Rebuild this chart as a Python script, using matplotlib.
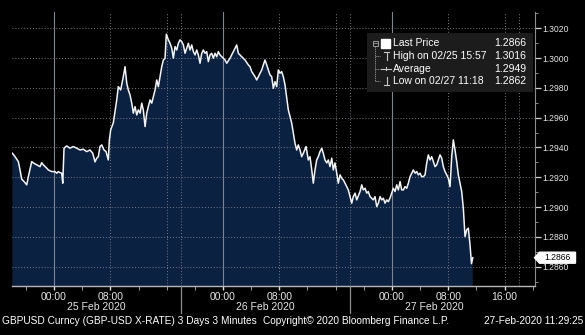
import matplotlib
matplotlib.use("Agg")
import matplotlib.pyplot as plt
from matplotlib.patches import Rectangle, Polygon

# ---------------- data ----------------
# hours since 2020-02-25 00:00 (chart time zone)
hours = [
    -5.92, -5.54, -5.07, -4.83, -4.59, -4.26, -3.88, -3.65, -3.17, -2.94,
    -2.46, -1.99, -1.75, -1.52, -1.04, -0.81, -0.33, 0.14, 0.38, 0.61,
    0.85, 1.09, 1.24, 1.42, 1.80, 2.27, 2.74, 3.22, 3.69, 4.16,
    4.64, 5.11, 5.50, 5.82, 6.07, 6.29, 6.53, 6.78, 7.10, 7.39,
    7.71, 7.86, 8.05, 8.42, 8.91, 9.13, 9.47, 9.84, 10.09, 10.33,
    10.55, 10.80, 11.04, 11.26, 11.51, 11.75, 11.97, 12.22, 12.46, 12.68,
    12.93, 13.17, 13.39, 13.64, 13.88, 14.11, 14.35, 14.59, 14.82, 15.06,
    15.30, 15.53, 15.77, 15.95, 16.24, 16.48, 16.72, 16.95, 17.19, 17.43,
    17.66, 17.90, 18.14, 18.37, 18.61, 18.85, 19.08, 19.32, 19.56, 19.79,
    20.03, 20.27, 20.50, 20.74, 20.98, 21.21, 21.45, 21.69, 21.92, 22.16,
    22.40, 22.63, 22.87, 23.11, 23.34, 23.58, 23.82, 24.05, 24.29, 24.53,
    25.00, 25.24, 25.47, 25.71, 25.95, 26.18, 26.42, 26.66, 27.13, 27.60,
    27.84, 28.08, 28.55, 28.79, 29.02, 29.26, 29.50, 29.73, 29.97, 30.21,
    30.44, 30.68, 30.92, 31.15, 31.39, 31.63, 31.86, 32.10, 32.34, 32.57,
    32.81, 33.05, 33.28, 33.52, 33.76, 33.99, 34.23, 34.47, 34.70, 34.94,
    35.18, 35.41, 35.80, 36.12, 36.36, 36.61, 36.83, 37.07, 37.31, 37.54,
    37.78, 38.03, 38.25, 38.49, 38.74, 38.96, 39.20, 39.45, 39.67, 39.91,
    40.16, 40.38, 40.63, 40.87, 41.09, 41.34, 41.58, 41.80, 42.05, 42.29,
    42.51, 42.76, 43.00, 43.47, 43.71, 43.93, 44.18, 44.42, 44.64, 44.89,
    45.36, 45.60, 45.84, 46.07, 46.31, 46.55, 46.78, 47.02, 47.26, 47.49,
    47.73, 47.97, 48.20, 48.44, 48.68, 48.91, 49.15, 49.39, 49.62, 49.86,
    50.10, 50.33, 50.57, 50.81, 51.04, 51.28, 51.52, 51.75, 51.99, 52.23,
    52.46, 52.70, 52.94, 53.17, 53.41, 53.65, 53.88, 54.12, 54.36, 54.59,
    54.83, 55.07, 55.30, 55.54, 55.78, 56.01, 56.25, 56.49, 56.72, 56.96,
    57.20, 57.43, 57.67, 57.91, 58.14, 58.38, 58.62, 58.85, 59.09, 59.30,
    59.48,
]
price = [
    1.29361, 1.29338, 1.29305, 1.29249, 1.29187, 1.29171, 1.29149, 1.29204, 1.29305, 1.29296,
    1.29283, 1.29271, 1.29298, 1.29283, 1.29261, 1.29249, 1.29238, 1.29238, 1.29227, 1.29238,
    1.29231, 1.29227, 1.29160, 1.29395, 1.29410, 1.29395, 1.29406, 1.29395, 1.29383, 1.29388,
    1.29372, 1.29383, 1.29361, 1.29303, 1.29328, 1.29338, 1.29406, 1.29417, 1.29383, 1.29372,
    1.29316, 1.29451, 1.29518, 1.29565, 1.29719, 1.29808, 1.29786, 1.29875, 1.29942, 1.29831,
    1.29786, 1.29752, 1.29697, 1.29630, 1.29674, 1.29618, 1.29652, 1.29630, 1.29697, 1.29652,
    1.29540, 1.29630, 1.29674, 1.29719, 1.29697, 1.29741, 1.29786, 1.29853, 1.29808, 1.29875,
    1.29942, 1.29987, 1.29999, 1.30160, 1.30122, 1.30099, 1.30066, 1.29999, 1.30077, 1.30054,
    1.30099, 1.30122, 1.30110, 1.30088, 1.30032, 1.30066, 1.30099, 1.30054, 1.30088, 1.30043,
    1.30021, 1.30054, 1.30021, 1.29965, 1.30032, 1.30054, 1.30032, 1.30043, 1.29976, 1.30021,
    1.30032, 1.29999, 1.30032, 1.30009, 1.30043, 1.30021, 1.30009, 1.29999, 1.29987, 1.29965,
    1.29999, 1.30021, 1.30043, 1.30066, 1.30088, 1.30032, 1.30021, 1.30009, 1.29987, 1.29954,
    1.29942, 1.29909, 1.29875, 1.29853, 1.29875, 1.29898, 1.29920, 1.29954, 1.29987, 1.29954,
    1.29920, 1.29887, 1.29875, 1.29797, 1.29842, 1.29808, 1.29920, 1.29898, 1.29909, 1.29875,
    1.29820, 1.29732, 1.29652, 1.29607, 1.29563, 1.29495, 1.29428, 1.29383, 1.29417, 1.29383,
    1.29338, 1.29361, 1.29406, 1.29316, 1.29338, 1.29249, 1.29160, 1.29249, 1.29316, 1.29338,
    1.29372, 1.29395, 1.29361, 1.29316, 1.29296, 1.29316, 1.29271, 1.29328, 1.29249, 1.29296,
    1.29227, 1.29160, 1.29216, 1.29193, 1.29182, 1.29160, 1.29137, 1.29115, 1.29070, 1.29026,
    1.29070, 1.29093, 1.29048, 1.29104, 1.29149, 1.29115, 1.29126, 1.29093, 1.29104, 1.29070,
    1.29048, 1.29070, 1.29003, 1.29026, 1.29070, 1.29048, 1.29059, 1.29026, 1.29048, 1.29036,
    1.29061, 1.29095, 1.29126, 1.29104, 1.29149, 1.29115, 1.29171, 1.29115, 1.29115, 1.29137,
    1.29126, 1.29160, 1.29204, 1.29227, 1.29249, 1.29227, 1.29238, 1.29216, 1.29227, 1.29204,
    1.29204, 1.29216, 1.29296, 1.29350, 1.29316, 1.29338, 1.29305, 1.29271, 1.29283, 1.29316,
    1.29350, 1.29328, 1.29271, 1.29238, 1.29216, 1.29193, 1.29137, 1.29338, 1.29451, 1.29383,
    1.29305, 1.29216, 1.29160, 1.29104, 1.28992, 1.28802, 1.28847, 1.28858, 1.28746, 1.28620,
    1.28660,
]

y_ticks = [1.2860, 1.2880, 1.2900, 1.2920, 1.2940, 1.2960, 1.2980, 1.3000, 1.3020]
y_tick_labels = ["1.2860", "1.2880", "1.2900", "1.2920", "1.2940", "1.2960", "1.2980", "1.3000", "1.3020"]
x_minor_hours = [-4, 0, 4, 8, 12, 16, 20, 24, 28, 32, 36, 40, 44, 48, 52, 56, 60, 64, 68]
x_label_hours = [0, 8, 24, 32, 48, 56, 64]
x_label_text = ["00:00", "08:00", "00:00", "08:00", "00:00", "08:00", "16:00"]
midnight_hours = [0, 24, 48]
dotted_hours = [8, 16, 18, 32, 40, 42, 56, 64, 66]
day_separators = [18, 42]
day_centers = [6, 30, 54]
day_labels = ["25 Feb 2020", "26 Feb 2020", "27 Feb 2020"]
legend_names = ["Last Price", "High on 02/25 15:57", "Average", "Low on 02/27 11:18"]
legend_values = ["1.2866", "1.3016", "1.2949", "1.2862"]
last_price = 1.2866
last_label = "1.2866"
footer_left = "GBPUSD Curncy (GBP-USD X-RATE) 3 Days 3 Minutes"
footer_mid = "Copyright\u00a9 2020 Bloomberg Finance L.P."
footer_right = "27-Feb-2020 11:29:25"

# ---------------- styling ----------------
plt.rcParams['font.family'] = ['Liberation Sans', 'DejaVu Sans']
W, H = 585, 335
fig = plt.figure(figsize=(W / 100, H / 100), dpi=100, facecolor='black')

L, R, T, B = 12, 534.5, 11.7, 286
ax = fig.add_axes([L / W, (H - B) / H, (R - L) / W, (B - T) / H])
ax.set_facecolor('black')
ymin, ymax = 1.28470, 1.30311
ax.set_xlim(-5.97, 68.25)
ax.set_ylim(ymin, ymax)

fill_col = '#0b2142'
ax.fill_between(hours, price, ymin - 0.01, color=fill_col, lw=0, zorder=1)
ax.plot(hours, price, color='#f4f4f4', lw=1.1, zorder=4)

grid_col = '#767a80'
for v in y_ticks:
    ax.axhline(v, color=grid_col, lw=0.7, ls=(0, (1, 2)), zorder=2)
for h in dotted_hours:
    ax.axvline(h, color=grid_col, lw=0.7, ls=(0, (1, 2)), zorder=2)
for h in midnight_hours:
    ax.axvline(h, color='#7d8591', lw=0.8, zorder=2)

# axes, ticks
for s in ['left', 'top']:
    ax.spines[s].set_visible(False)
ax.spines['bottom'].set_color('#b8b8b8')
ax.spines['bottom'].set_linewidth(1.0)
ax.spines['right'].set_color('#8c8c8c')
ax.spines['right'].set_linewidth(0.8)

ax.yaxis.tick_right()
ax.set_yticks(y_ticks)
ax.set_yticklabels(y_tick_labels)
ax.set_yticks([v + 0.001 for v in y_ticks] + [y_ticks[0] - 0.001], minor=True)
ax.tick_params(axis='y', which='major', direction='out', length=4, width=0.9,
               color='#d0d0d0', labelcolor='#e6e6e6', labelsize=6.2, pad=1.5)
ax.tick_params(axis='y', which='minor', direction='out', length=2.5, width=0.7,
               color='#8c8c8c')

ax.set_xticks(x_label_hours)
ax.set_xticklabels(x_label_text)
ax.set_xticks(x_minor_hours, minor=True)
ax.tick_params(axis='x', which='major', direction='out', length=3, width=1.0,
               color='#e0e0e0', labelcolor='#e6e6e6', labelsize=7.5, pad=1.5)
ax.tick_params(axis='x', which='minor', direction='out', length=3, width=0.7,
               color='#9a9a9a')

xt = ax.get_xaxis_transform()
for h in day_separators:
    ax.plot([h, h], [0, -0.098], transform=xt, color='#8c8c8c', lw=0.9,
            clip_on=False, zorder=3)
for h, lab in zip(day_centers, day_labels):
    ax.text(h, -0.076, lab, transform=xt, ha='center', va='center',
            color='#e6e6e6', fontsize=7.5)

# last-price tag on the right axis
yt = ax.get_yaxis_transform()
px = 1.0 / (R - L)
dy = 5.5 * (ymax - ymin) / (B - T)
tag = Polygon([(1.0, last_price), (1.0 + 5 * px, last_price + dy),
               (1.0 + 41 * px, last_price + dy), (1.0 + 41 * px, last_price - dy),
               (1.0 + 5 * px, last_price - dy)],
              closed=True, transform=yt, fc='white', ec='white', clip_on=False, zorder=10)
ax.add_patch(tag)
ax.text(1.0 + 23 * px, last_price, last_label, transform=yt, ha='center', va='center',
        color='black', fontsize=6.2, zorder=11, clip_on=False)

# ---------------- overlay in pixel coordinates ----------------
ov = fig.add_axes([0, 0, 1, 1], zorder=5)
ov.set_xlim(0, W)
ov.set_ylim(H, 0)
ov.axis('off')
ov.patch.set_visible(False)

ov.add_patch(Rectangle((367, 33), 166, 59, fc='#1c1c1c', ec='none'))
row_y = [43.3, 56, 68.7, 81]
tree_col = '#9a9a9a'
# tree
ov.add_patch(Rectangle((372.5, 40.5), 5, 5, fc='none', ec=tree_col, lw=0.7))
ov.plot([373.5, 376.5], [43, 43], color=tree_col, lw=0.6)
ov.plot([375, 375], [45.5, 81], color=tree_col, lw=0.6, ls=(0, (1.5, 1)))
for yy in row_y[1:]:
    ov.plot([375, 380], [yy, yy], color=tree_col, lw=0.6, ls=(0, (1.5, 1)))
# symbols
ov.add_patch(Rectangle((381, 38.5), 9, 9.5, fc='white', ec='white'))
sym_col = '#c8c8c8'
ov.plot([384, 389], [52, 52], color=sym_col, lw=0.8)
ov.plot([386.5, 386.5], [52, 60], color=sym_col, lw=0.8)
ov.plot([381, 391], [68.7, 68.7], color=sym_col, lw=0.8)
ov.plot([386, 386], [67, 70.4], color=sym_col, lw=0.8)
ov.plot([386.5, 386.5], [77, 85], color=sym_col, lw=0.8)
ov.plot([384, 389], [85, 85], color=sym_col, lw=0.8)
for yy, name, val in zip(row_y, legend_names, legend_values):
    ov.text(393, yy, name, color='white', fontsize=7.5, ha='left', va='center')
    ov.text(526, yy, val, color='white', fontsize=7.5, ha='right', va='center')

# footer
ov.text(2, 321, footer_left, color='white', fontsize=7.3, ha='left', va='center')
ov.text(263, 321, footer_mid, color='white', fontsize=7.3, ha='left', va='center')
ov.text(583, 321, footer_right, color='white', fontsize=7.3, ha='right', va='center')

fig.savefig('out.png', dpi=100, facecolor='black')
